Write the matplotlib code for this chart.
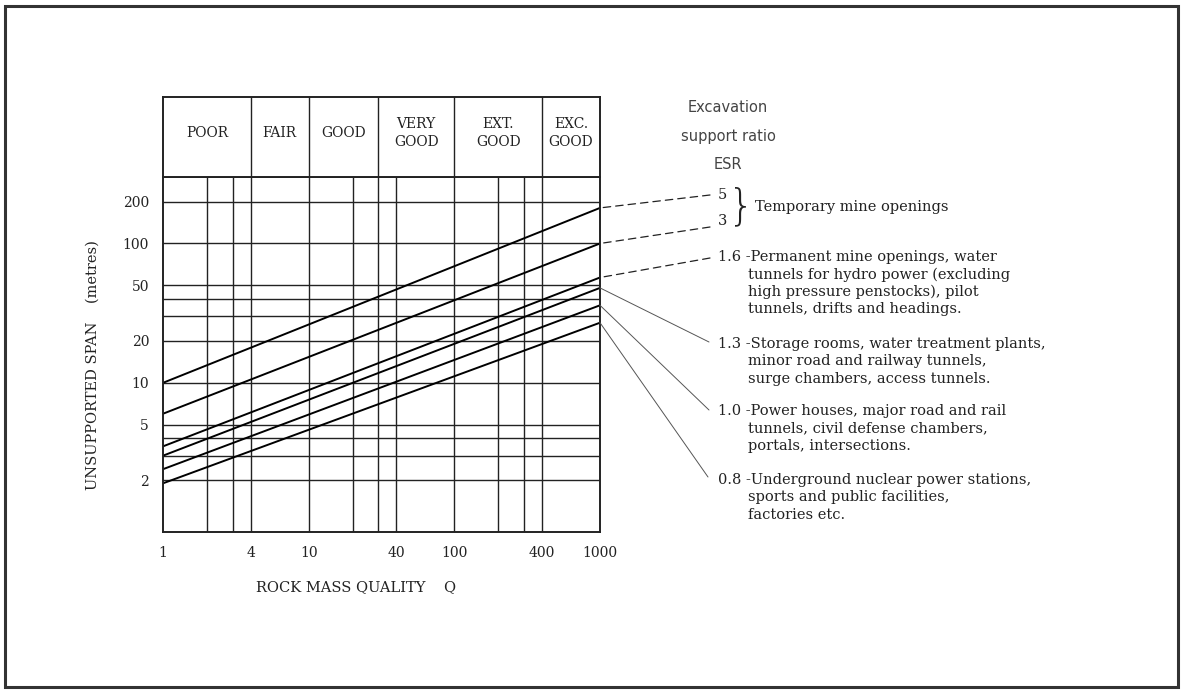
import matplotlib.pyplot as plt
from matplotlib.patches import Rectangle

# ---- data ----
esr_labels = ['5', '3', '1.6', '1.3', '1.0', '0.8']
span_at_q1 = [10, 6, 3.5, 3.0, 2.4, 1.9]
span_at_q1000 = [180, 100, 57, 48, 36, 27]
q_range = [1, 1000]

x_ticks = [1, 4, 10, 40, 100, 400, 1000]
y_ticks = [2, 5, 10, 20, 50, 100, 200]
x_grid = [2, 3, 20, 40, 200, 300]
y_grid = [2, 3, 4, 5, 10, 20, 30, 40, 50, 100, 200]

class_edges = [1, 4, 10, 30, 100, 400, 1000]
class_names = ['POOR', 'FAIR', 'GOOD', 'VERY\nGOOD', 'EXT.\nGOOD', 'EXC.\nGOOD']

descriptions = [
    ['Permanent mine openings, water', 'tunnels for hydro power (excluding',
     'high pressure penstocks), pilot', 'tunnels, drifts and headings.'],
    ['Storage rooms, water treatment plants,', 'minor road and railway tunnels,',
     'surge chambers, access tunnels.'],
    ['Power houses, major road and rail', 'tunnels, civil defense chambers,',
     'portals, intersections.'],
    ['Underground nuclear power stations,', 'sports and public facilities,',
     'factories etc.'],
]

W, H = 1183, 691
ink = '#222222'
serif = 'DejaVu Serif'


def fx(px):
    return px / W


def fy(py):
    return 1 - py / H


fig = plt.figure(figsize=(W / 100, H / 100), dpi=100)

# main chart
ax = fig.add_axes([fx(163), fy(532), fx(600) - fx(163), fy(177) - fy(532)])
ax.set_xscale('log')
ax.set_yscale('log')
ax.set_xlim(1, 1000)
ax.set_ylim(0.85, 300)

for q in x_grid + class_edges[1:-1]:
    ax.axvline(q, color=ink, lw=1.0)
for s in y_grid:
    ax.axhline(s, color=ink, lw=1.0)

for lo, hi in zip(span_at_q1, span_at_q1000):
    ax.plot(q_range, [lo, hi], color='black', lw=1.4)

ax.set_xticks(x_ticks)
ax.set_xticklabels([str(t) for t in x_ticks])
ax.set_yticks(y_ticks)
ax.set_yticklabels([str(t) for t in y_ticks])
ax.minorticks_off()
ax.tick_params(length=0, labelsize=10, colors=ink, pad=10)
for lab in ax.get_xticklabels() + ax.get_yticklabels():
    lab.set_fontfamily(serif)
for sp in ax.spines.values():
    sp.set_linewidth(1.4)
    sp.set_color(ink)

# header with rock classes
hx = fig.add_axes([fx(163), fy(177), fx(600) - fx(163), fy(97) - fy(177)])
hx.set_xscale('log')
hx.set_xlim(1, 1000)
hx.set_ylim(0, 1)
hx.set_xticks([])
hx.set_yticks([])
hx.minorticks_off()
for sp in hx.spines.values():
    sp.set_linewidth(1.4)
    sp.set_color(ink)
for q in class_edges[1:-1]:
    hx.axvline(q, color=ink, lw=1.0)
for a, b, name in zip(class_edges[:-1], class_edges[1:], class_names):
    hx.text((a * b) ** 0.5, 0.55, name, ha='center', va='center',
            fontsize=10, family=serif, color=ink, linespacing=1.45)

# axis titles
fig.text(fx(93), fy(365), 'UNSUPPORTED SPAN    (metres)', rotation=90,
         ha='center', va='center', fontsize=10.5, family=serif, color=ink)
fig.text(fx(356), fy(587), 'ROCK MASS QUALITY    Q', ha='center', va='center',
         fontsize=10.5, family=serif, color=ink)

# ESR key
fig.text(fx(728), fy(136), 'Excavation\nsupport ratio\nESR', ha='center', va='center',
         fontsize=10.5, family='DejaVu Sans', color='#444444', linespacing=2.1)

leader_end = [(710, 195), (710, 227), (710, 258), (709, 342), (709, 410), (708, 477)]

for i, end in enumerate(span_at_q1000):
    dashed = i < 3
    ax.annotate('', xy=(1000, end), xycoords='data',
                xytext=(leader_end[i][0], H - leader_end[i][1]), textcoords='figure pixels',
                arrowprops=dict(arrowstyle='-', lw=0.9 if dashed else 0.7,
                                linestyle=(0, (6, 4)) if dashed else '-',
                                color=ink if dashed else '#555555',
                                shrinkA=0, shrinkB=0),
                annotation_clip=False)

fig.text(fx(718), fy(195), esr_labels[0], ha='left', va='center',
         fontsize=10.5, family=serif, color=ink)
fig.text(fx(718), fy(221), esr_labels[1], ha='left', va='center',
         fontsize=10.5, family=serif, color=ink)
fig.text(fx(741), fy(207), '}', ha='center', va='center', fontsize=30,
         family='DejaVu Sans', color=ink, fontweight='light')
fig.text(fx(755), fy(211), 'Temporary mine openings', ha='left', va='baseline',
         fontsize=10.5, family=serif, color=ink)

first_baseline = [261, 348, 415, 484]
line_gap = 17.5
for i, lines in enumerate(descriptions):
    y0 = first_baseline[i]
    fig.text(fx(718), fy(y0), esr_labels[i + 2] + ' -' + lines[0], ha='left', va='baseline',
             fontsize=10.5, family=serif, color=ink)
    for k, txt in enumerate(lines[1:]):
        fig.text(fx(748), fy(y0 + line_gap * (k + 1)), txt, ha='left', va='baseline',
                 fontsize=10.5, family=serif, color=ink)

# page frame
fig.patches.append(Rectangle((fx(5), fy(687)), fx(1178) - fx(5), fy(6) - fy(687),
                             transform=fig.transFigure, fill=False,
                             edgecolor='#333333', lw=2.2))

fig.savefig('out.png', dpi=100)
